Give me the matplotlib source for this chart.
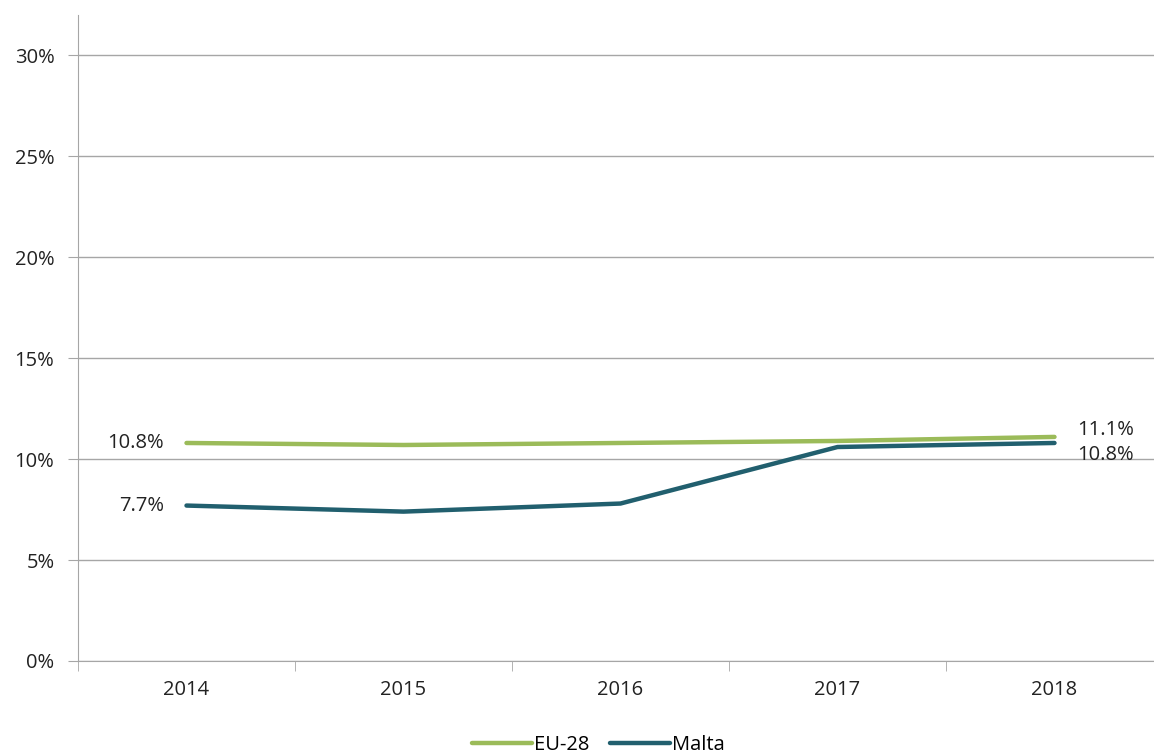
import matplotlib.pyplot as plt
from matplotlib.ticker import PercentFormatter

plt.rcParams["font.family"] = ["Open Sans", "DejaVu Sans"]

years = ["2014", "2015", "2016", "2017", "2018"]
eu28 = [10.8, 10.7, 10.8, 10.9, 11.1]
malta = [7.7, 7.4, 7.8, 10.6, 10.8]

green = "#9BBB59"
teal = "#215F6E"
grid_color = "#A6A6A6"
text_color = "#222222"
fs = 14.5

fig = plt.figure(figsize=(11.54, 7.54), dpi=100)
ax = fig.add_axes([78 / 1154, 93 / 754, 1085 / 1154, 646 / 754])

x = range(len(years))
ax.plot(x, eu28, color=green, linewidth=3.2, solid_capstyle="round", label="EU-28")
ax.plot(x, malta, color=teal, linewidth=3.2, solid_capstyle="round", label="Malta")

# value labels at both ends of each line
ax.annotate(f"{eu28[0]:.1f}%", (0, eu28[0]), xytext=(-16, 0), textcoords="offset points",
            ha="right", va="center", fontsize=fs, color=text_color)
ax.annotate(f"{malta[0]:.1f}%", (0, malta[0]), xytext=(-16, 0), textcoords="offset points",
            ha="right", va="center", fontsize=fs, color=text_color)
ax.annotate(f"{eu28[-1]:.1f}%", (4, eu28[-1]), xytext=(16, 5), textcoords="offset points",
            ha="left", va="center", fontsize=fs, color=text_color)
ax.annotate(f"{malta[-1]:.1f}%", (4, malta[-1]), xytext=(16, -9), textcoords="offset points",
            ha="left", va="center", fontsize=fs, color=text_color)

ax.set_xlim(-0.5, len(years) - 0.5)
ax.set_ylim(0, 32)
ax.set_yticks(range(0, 31, 5))
ax.yaxis.set_major_formatter(PercentFormatter(decimals=0))
ax.set_xticks(list(x))
ax.set_xticklabels(years)
ax.set_xticks([i + 0.5 for i in range(-1, len(years))], minor=True)

ax.grid(axis="y", color=grid_color, linewidth=1)
ax.set_axisbelow(True)
for side in ["top", "right"]:
    ax.spines[side].set_visible(False)
ax.spines["left"].set_color(grid_color)
ax.spines["bottom"].set_color(grid_color)
ax.tick_params(axis="x", which="major", length=0, pad=14, labelsize=fs, labelcolor=text_color)
ax.tick_params(axis="x", which="minor", length=7, color=grid_color)
ax.tick_params(axis="y", length=7, color=grid_color, labelsize=fs, labelcolor=text_color, pad=10)

ax.legend(loc="center", bbox_to_anchor=(0.5 - 22 / 1085, -0.13), ncol=2, frameon=False,
          fontsize=fs, handlelength=3.0, handletextpad=0.1, columnspacing=1.0)

fig.savefig("out.png", dpi=100)
